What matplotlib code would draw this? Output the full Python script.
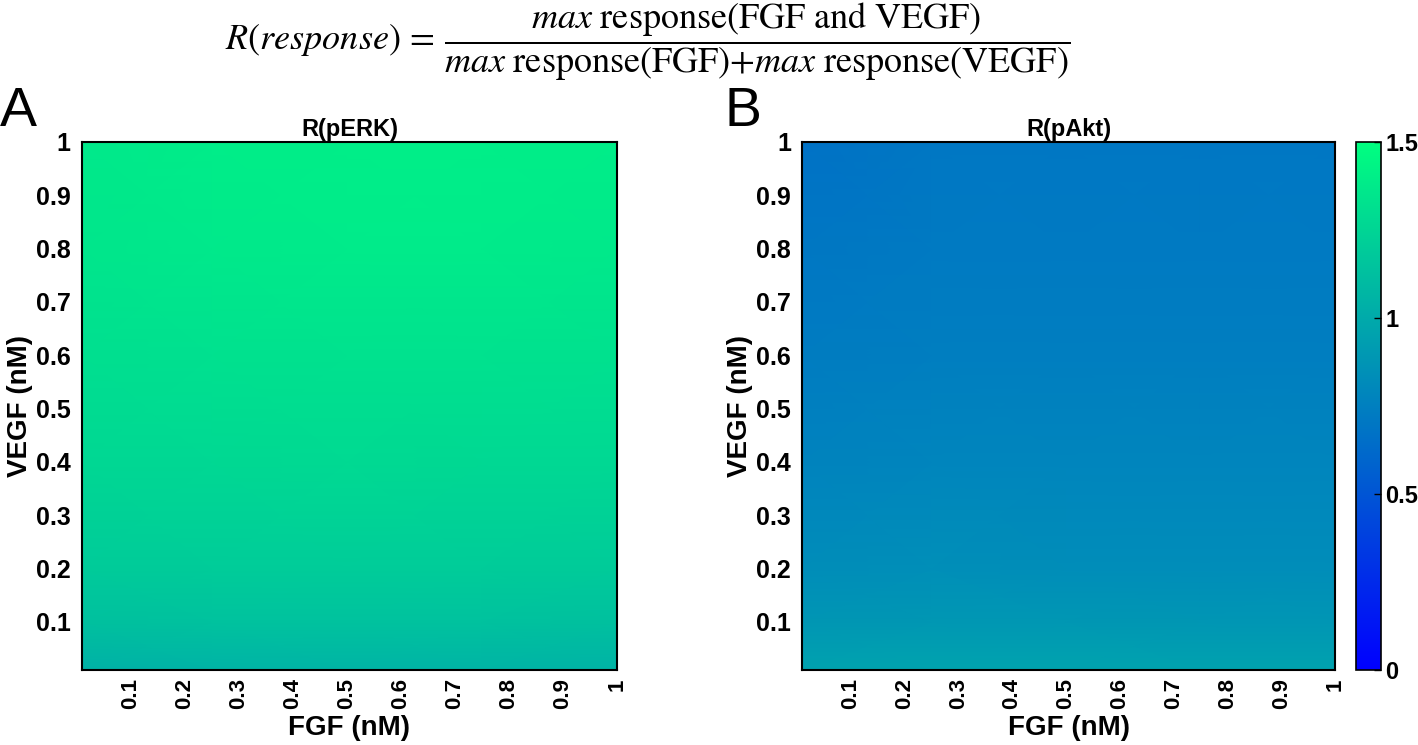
import numpy as np
import matplotlib
matplotlib.use("Agg")
from matplotlib import pyplot as plt

fgf = [0.01, 0.25, 0.5, 0.75, 1.0]
vegf = [0.01, 0.1, 0.2, 0.4, 0.6, 0.8, 1.0]

# R(pERK), rows = vegf (bottom -> top), cols = fgf
r_perk = [
    [1.04, 1.05, 1.06, 1.06, 1.05],
    [1.13, 1.14, 1.14, 1.14, 1.13],
    [1.19, 1.20, 1.20, 1.20, 1.19],
    [1.26, 1.27, 1.28, 1.27, 1.27],
    [1.31, 1.32, 1.33, 1.33, 1.32],
    [1.35, 1.37, 1.38, 1.38, 1.37],
    [1.37, 1.39, 1.40, 1.40, 1.39],
]

# R(pAkt)
r_pakt = [
    [0.95, 0.96, 0.96, 0.95, 0.95],
    [0.88, 0.89, 0.89, 0.88, 0.88],
    [0.83, 0.84, 0.83, 0.83, 0.83],
    [0.77, 0.78, 0.78, 0.78, 0.78],
    [0.73, 0.74, 0.74, 0.74, 0.74],
    [0.70, 0.72, 0.72, 0.72, 0.72],
    [0.67, 0.70, 0.70, 0.70, 0.70],
]

tick_vals = [0.1, 0.2, 0.3, 0.4, 0.5, 0.6, 0.7, 0.8, 0.9, 1]
tick_labels = ["0.1", "0.2", "0.3", "0.4", "0.5", "0.6", "0.7", "0.8", "0.9", "1"]
cbar_ticks = [0, 0.5, 1, 1.5]
cbar_labels = ["0", "0.5", "1", "1.5"]

plt.rcParams["font.family"] = ["Liberation Sans", "DejaVu Sans"]
plt.rcParams["mathtext.fontset"] = "stix"

fig = plt.figure(figsize=(14.18, 7.45), dpi=100)

ax_a = fig.add_axes([0.0578, 0.1007, 0.3773, 0.7087])
ax_b = fig.add_axes([0.5656, 0.1007, 0.3759, 0.7087])
cax = fig.add_axes([0.9563, 0.1007, 0.0176, 0.7087])

for ax, data, title in [(ax_a, r_perk, "R(pERK)"), (ax_b, r_pakt, "R(pAkt)")]:
    mesh = ax.pcolormesh(fgf, vegf, np.array(data), cmap="winter",
                         vmin=0, vmax=1.5, shading="gouraud")
    ax.set_xlim(0.01, 1)
    ax.set_ylim(0.01, 1)
    ax.set_xticks(tick_vals)
    ax.set_xticklabels(tick_labels, rotation=90, fontsize=16, fontweight="bold")
    ax.set_yticks(tick_vals)
    ax.set_yticklabels(tick_labels, fontsize=18, fontweight="bold")
    ax.tick_params(axis="x", length=0, pad=6)
    ax.tick_params(axis="y", length=0, pad=8)
    ax.set_xlabel("FGF (nM)", fontsize=20, fontweight="bold", labelpad=4)
    ax.set_ylabel("VEGF (nM)", fontsize=20, fontweight="bold", labelpad=2)
    ax.set_title(title, fontsize=17, fontweight="bold", pad=4)
    for s in ax.spines.values():
        s.set_linewidth(1.5)

cb = fig.colorbar(mesh, cax=cax)
cb.set_ticks(cbar_ticks)
cb.set_ticklabels(cbar_labels)
cax.tick_params(direction="in", length=5, width=1, labelsize=17, pad=3)
for lbl in cax.get_yticklabels():
    lbl.set_fontweight("bold")
cb.outline.set_linewidth(1.2)

fig.text(0.0, 0.85, "A", fontsize=40, ha="left", va="center")
fig.text(0.511, 0.85, "B", fontsize=40, ha="left", va="center")

formula = (r"$R(response)\,=\,\dfrac{max\ \mathrm{response(FGF\ and\ VEGF)}}"
           r"{max\ \mathrm{response(FGF)}{+}max\ \mathrm{response(VEGF)}}$")
fig.text(0.457, 0.944, formula, fontsize=26, ha="center", va="center")

plt.savefig("out.png", dpi=100)
